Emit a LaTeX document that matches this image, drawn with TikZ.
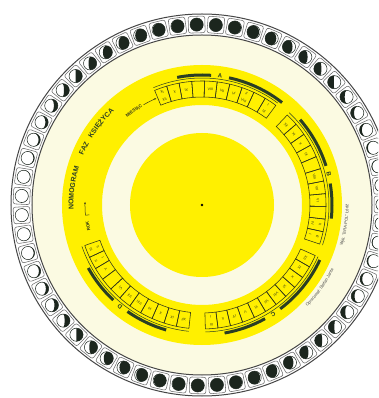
\documentclass[tikz,border=0pt]{standalone}
\usepackage{fontspec}
\setmainfont{Liberation Sans}
\usetikzlibrary{decorations.text,arrows.meta}
\definecolor{cream}{RGB}{251,250,226}
\definecolor{dyellow}{RGB}{255,240,0}
\definecolor{dgreen}{RGB}{42,62,36}
\definecolor{ringgray}{RGB}{70,70,70}
\definecolor{boxc}{RGB}{110,110,110}
\definecolor{moondark}{RGB}{28,38,30}
\definecolor{cellc}{RGB}{50,55,25}
\tikzset{
  cellline/.style={draw=cellc, line width=0.55},
  celltext/.style={text=cellc, font=\fontsize{3.6}{3.6}\selectfont, inner sep=0},
  grouplbl/.style={text=dgreen, font=\fontsize{6}{6}\selectfont\bfseries, inner sep=0.5},
  thickarc/.style={draw=dgreen, line width=3},
  thinarc/.style={draw=dgreen, line width=0.5},
}
\newcommand\cellframe[1]{\draw[cellline] (#1-2.95:108) arc[start angle=#1-2.95, end angle=#1+2.95, radius=108] -- (#1+2.95:124) arc[start angle=#1+2.95, end angle=#1-2.95, radius=124] -- cycle;}
\newcommand\mcell[2]{\cellframe{#1}\node[celltext, rotate=#1-90] at (#1:116) {#2};}
\newcommand\dcell[3]{\cellframe{#1}\node[celltext, rotate=#1-90] at (#1:119.8) {#2};\node[celltext, rotate=#1-90] at (#1:112.2) {#3};}
\newcommand\ecell[1]{\cellframe{#1}}
\newcommand\myarc[4]{\draw[#4] (#2:#1) arc[start angle=#2, end angle=#3, radius=#1];}
\begin{document}
\begin{tikzpicture}[x=1pt,y=1pt]
\useasboundingbox (-202,-193) rectangle (176,205);
\clip (-202,-193) rectangle (176,205);
\fill[white] (-202,-193) rectangle (176,205);
% moon ring
\fill[white] (0,0) circle (191);
\draw[ringgray, line width=1] (0,0) circle (191);
\fill[cream] (0,0) circle (170);
\draw[ringgray, line width=1] (0,0) circle (170);
\foreach \i in {0,...,58}{
  \pgfmathsetmacro{\ang}{91.7+\i*6.101695}
  \pgfmathsetmacro{\kk}{cos(2*(\ang-90))}
  \pgfmathsetmacro{\mm}{cos(\ang)<0 ? 1 : -1}
  \pgfmathsetmacro{\xr}{max(abs(\kk)*6.6,0.05)}
  \pgfmathsetmacro{\st}{\kk<0 ? -90 : 270}
  \begin{scope}[shift={(\ang:180.5)}]
    \draw[boxc, line width=0.55, rounded corners=2.2, rotate=\ang] (-8.3,-8.3) rectangle (8.3,8.3);
    \begin{scope}[xscale=\mm]
      \fill[moondark] (0,6.6) arc[start angle=90, end angle=-90, radius=6.6] arc[start angle=\st, end angle=90, x radius=\xr, y radius=6.6] -- cycle;
    \end{scope}
    \draw[moondark, line width=0.5] (0,0) circle (6.6);
  \end{scope}
}
% yellow band and disc
\fill[dyellow, even odd rule] (0,0) circle (140) (0,0) circle (100);
\fill[dyellow] (0,0) circle (72);
\fill[black] (0,0) circle (1.3);
\node[inner sep=0] (centre) at (0,0) {};
% group A
\dcell{109.5}{XI}{XII}\mcell{103.6}{X}\mcell{97.7}{IX}\ecell{91.8}
\mcell{85.9}{VIII}\mcell{80}{VII}\mcell{74.1}{VI}\dcell{68.2}{II}{VIII}\ecell{62.3}\dcell{56.4}{I}{III}
\myarc{127}{112.5}{53.4}{thinarc}
\myarc{130}{101}{86}{thickarc}\myarc{130}{78}{52}{thickarc}
\node[grouplbl, rotate=-8] (lA) at (82:130.5) {A};
% group B
\mcell{43.6}{XII}\mcell{37.7}{XI}\mcell{31.8}{X}\mcell{25.9}{IX}\ecell{20}
\mcell{14.1}{VIII}\mcell{8.2}{VII}\mcell{2.3}{VI}\ecell{-3.6}\dcell{-9.5}{II}{IV}\dcell{-15.4}{III}{I}
\myarc{127}{46.6}{-18.4}{thinarc}
\myarc{130}{41}{17.5}{thickarc}\myarc{130}{9.5}{-6}{thickarc}
\node[grouplbl, rotate=-76.5] (lB) at (13.5:130.5) {B};
% group C
\mcell{-27}{XII}\mcell{-32.85}{IX}\mcell{-38.7}{X}\mcell{-44.55}{XI}\mcell{-50.4}{VIII}\mcell{-56.25}{VII}
\mcell{-62.1}{VI}\mcell{-67.95}{V}\mcell{-73.8}{IV}\mcell{-79.65}{II}\dcell{-85.5}{III}{I}
\myarc{127}{-24}{-88.5}{thinarc}
\myarc{130}{-25}{-53}{thickarc}\myarc{130}{-61}{-80}{thickarc}
\node[grouplbl, rotate=-147] (lC) at (-57:130.5) {C};
% group D
\mcell{-99}{XII}\mcell{-104.9}{IX}\mcell{-110.8}{X}\mcell{-116.7}{XI}\mcell{-122.6}{VIII}\mcell{-128.5}{VII}
\mcell{-134.4}{VI}\ecell{-140.3}\mcell{-146.2}{V}\dcell{-152.1}{II}{I}\dcell{-158}{III}{II}
\myarc{127}{-96}{-161}{thinarc}
\myarc{130}{-106}{-125}{thickarc}\myarc{130}{-133}{-151}{thickarc}
\node[grouplbl, rotate=-219] (lD) at (-129:130.5) {D};
% labels
\node[celltext, font=\fontsize{4.5}{4.5}\selectfont\bfseries, rotate=35.5] (mies) at (125.8:116) {MIESIĄC};
\draw[cellc, line width=0.5, -{Stealth[length=2.2,width=1.8]}] (120.3:116) arc[start angle=120.3, end angle=113.2, radius=116];
\node[celltext, font=\fontsize{4.5}{4.5}\selectfont\bfseries, rotate=100] (rok) at (-169.5:116) {ROK};
\draw[cellc, line width=0.5, -{Stealth[length=2.2,width=1.8]}] (-175:113) -- (-175:117) arc[start angle=-175, end angle=-181.5, radius=117];
\path[decorate, decoration={text along path, text align=center, text color=dgreen,
  text={|\fontsize{7}{7}\selectfont\bfseries|NOMOGRAM}}] (188:128.5) arc[start angle=188, end angle=157, radius=128.5];
\path[decorate, decoration={text along path, text align=center, text color=dgreen,
  text={|\fontsize{7}{7}\selectfont\bfseries|FAZ}}] (165:128.5) arc[start angle=165, end angle=144, radius=128.5];
\path[decorate, decoration={text along path, text align=center, text color=dgreen,
  text={|\fontsize{7}{7}\selectfont\bfseries|KSIĘŻYCA}}] (156:128.5) arc[start angle=156, end angle=126, radius=128.5];
\path[decorate, decoration={text along path, text align=center, text color=ringgray,
  text={|\fontsize{4.2}{4.2}\selectfont|Wyk. "ERA-POL" Łódź}}] (-22:146.5) arc[start angle=-22, end angle=6, radius=146.5];
\path[decorate, decoration={text along path, text align=center, text color=ringgray,
  text={|\fontsize{4.2}{4.2}\selectfont|Opracował: Stefan Janta}}] (-50:146.5) arc[start angle=-50, end angle=-20, radius=146.5];
\end{tikzpicture}
\end{document}
